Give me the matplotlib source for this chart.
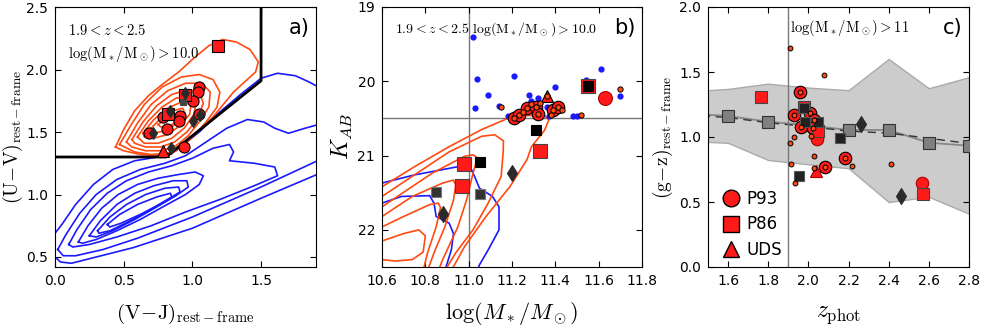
import matplotlib
matplotlib.use('Agg')
import matplotlib.pyplot as plt
from matplotlib.lines import Line2D

plt.rcParams['mathtext.fontset'] = 'cm'
plt.rcParams['font.family'] = 'DejaVu Sans'
plt.rcParams['xtick.labelsize'] = 10
plt.rcParams['ytick.labelsize'] = 10

RED = '#ff1a1a'
ORANGE = '#ff4a12'
BLUE = '#1a1aff'
DARK = '#2a2a2a'

# ===================================================================
# PANEL a) UVJ
# ===================================================================
a_circ_x = [1.048, 1.039, 1.007, 1.051, 0.910, 0.905, 0.813, 0.789, 0.687, 0.942]
a_circ_y = [1.864, 1.818, 1.751, 1.644, 1.631, 1.591, 1.524, 1.618, 1.489, 1.377]
a_sq_x = [1.19, 0.944, 0.825]
a_sq_y = [2.19, 1.800, 1.644]
a_tri_x = [0.789]
a_tri_y = [1.35]
a_diam_x = [0.947, 0.837, 0.711, 1.056, 1.007, 0.845]
a_diam_y = [1.81, 1.67, 1.49, 1.64, 1.586, 1.37]
a_dsq_x = [0.930]
a_dsq_y = [1.738]
wedge_x = [0.0, 0.807, 1.5, 1.5]
wedge_y = [1.3, 1.3, 1.91, 2.5]

a_orange = [
    [(0.44, 1.38), (0.50, 1.52), (0.58, 1.67), (0.68, 1.79), (0.78, 1.88), (0.90, 1.98), (1.02, 2.10),
     (1.12, 2.19), (1.22, 2.24), (1.32, 2.22), (1.42, 2.16), (1.48, 2.06), (1.46, 1.98), (1.30, 1.82),
     (1.15, 1.62), (1.02, 1.48), (0.92, 1.38), (0.84, 1.32), (0.74, 1.31), (0.62, 1.32), (0.50, 1.35), (0.44, 1.38)],
    [(0.47, 1.40), (0.55, 1.55), (0.65, 1.72), (0.78, 1.86), (0.92, 1.94), (1.05, 1.96), (1.15, 1.92),
     (1.20, 1.82), (1.18, 1.70), (1.10, 1.58), (1.00, 1.46), (0.92, 1.38), (0.82, 1.33), (0.70, 1.32),
     (0.58, 1.34), (0.47, 1.40)],
    [(0.52, 1.42), (0.60, 1.57), (0.70, 1.72), (0.82, 1.83), (0.95, 1.89), (1.07, 1.89), (1.13, 1.82),
     (1.12, 1.70), (1.05, 1.58), (0.97, 1.47), (0.88, 1.39), (0.78, 1.35), (0.66, 1.35), (0.56, 1.38), (0.52, 1.42)],
    [(0.56, 1.44), (0.64, 1.58), (0.74, 1.71), (0.85, 1.80), (0.97, 1.84), (1.05, 1.82), (1.08, 1.73),
     (1.04, 1.61), (0.96, 1.50), (0.87, 1.42), (0.77, 1.38), (0.66, 1.38), (0.58, 1.41), (0.56, 1.44)],
    [(0.60, 1.46), (0.68, 1.59), (0.78, 1.70), (0.88, 1.77), (0.98, 1.79), (1.03, 1.74), (1.01, 1.64),
     (0.94, 1.53), (0.85, 1.45), (0.75, 1.41), (0.65, 1.41), (0.60, 1.46)],
    [(0.64, 1.49), (0.72, 1.60), (0.82, 1.69), (0.92, 1.74), (0.99, 1.72), (0.98, 1.64), (0.91, 1.55),
     (0.82, 1.48), (0.72, 1.45), (0.65, 1.46), (0.64, 1.49)],
    [(0.69, 1.52), (0.77, 1.61), (0.86, 1.67), (0.93, 1.69), (0.95, 1.64), (0.89, 1.57), (0.80, 1.51),
     (0.72, 1.49), (0.69, 1.52)],
    [(0.75, 1.56), (0.83, 1.62), (0.89, 1.64), (0.90, 1.60), (0.84, 1.55), (0.77, 1.54), (0.75, 1.56)],
]

a_blue = [
    [(-0.05, 0.62), (0.05, 0.76), (0.15, 0.92), (0.28, 1.08), (0.42, 1.20), (0.58, 1.27), (0.75, 1.30),
     (0.88, 1.35), (1.05, 1.50), (1.20, 1.66), (1.35, 1.80), (1.50, 1.93), (1.62, 1.97), (1.75, 1.95),
     (1.85, 1.90), (1.95, 1.84), (1.95, 1.18), (1.50, 0.97), (1.00, 0.73), (0.57, 0.575), (0.30, 0.50),
     (0.12, 0.45), (0.04, 0.46), (-0.05, 0.55)],
    [(0.02, 0.56), (0.08, 0.68), (0.18, 0.85), (0.30, 1.00), (0.45, 1.12), (0.62, 1.20), (0.80, 1.25),
     (0.95, 1.31), (1.10, 1.42), (1.25, 1.53), (1.40, 1.60), (1.52, 1.58), (1.60, 1.53), (1.70, 1.49),
     (1.82, 1.53), (1.95, 1.57), (1.95, 1.29), (1.50, 1.06), (1.00, 0.82), (0.60, 0.65), (0.35, 0.56),
     (0.15, 0.51), (0.06, 0.51), (0.02, 0.56)],
    [(0.10, 0.60), (0.16, 0.72), (0.26, 0.88), (0.38, 1.01), (0.52, 1.11), (0.68, 1.18), (0.85, 1.23),
     (1.00, 1.29), (1.15, 1.37), (1.27, 1.40), (1.30, 1.34), (1.27, 1.27), (1.45, 1.25), (1.60, 1.22),
     (1.62, 1.15), (1.45, 1.07), (1.20, 0.96), (0.95, 0.86), (0.70, 0.75), (0.45, 0.66), (0.25, 0.60),
     (0.13, 0.58), (0.10, 0.60)],
    [(0.17, 0.62), (0.24, 0.75), (0.34, 0.89), (0.46, 1.00), (0.60, 1.08), (0.75, 1.13), (0.90, 1.16),
     (1.02, 1.18), (1.08, 1.15), (1.05, 1.08), (0.95, 1.00), (0.80, 0.91), (0.62, 0.80), (0.45, 0.71),
     (0.30, 0.64), (0.20, 0.61), (0.17, 0.62)],
    [(0.25, 0.67), (0.33, 0.79), (0.45, 0.92), (0.58, 1.01), (0.72, 1.07), (0.86, 1.11), (0.96, 1.11),
     (0.97, 1.06), (0.88, 0.99), (0.74, 0.90), (0.58, 0.80), (0.42, 0.71), (0.30, 0.66), (0.25, 0.67)],
    [(0.31, 0.71), (0.40, 0.82), (0.52, 0.92), (0.66, 1.00), (0.80, 1.05), (0.90, 1.06), (0.91, 1.02),
     (0.82, 0.96), (0.68, 0.87), (0.53, 0.78), (0.40, 0.71), (0.32, 0.69), (0.31, 0.71)],
    [(0.38, 0.76), (0.47, 0.84), (0.60, 0.92), (0.74, 0.98), (0.84, 1.01), (0.85, 0.98), (0.76, 0.92),
     (0.62, 0.84), (0.48, 0.77), (0.40, 0.74), (0.38, 0.76)],
]

# ===================================================================
# PANEL b) K vs mass
# ===================================================================
b_blue_x = [11.02, 11.04, 11.03, 11.09, 11.14, 11.21, 11.18, 11.21, 11.28, 11.32, 11.40, 11.36, 11.29,
            11.50, 11.54, 11.61, 11.70, 11.37, 11.48, 11.25]
b_blue_y = [19.41, 19.97, 20.36, 20.19, 20.33, 19.93, 20.47, 20.47, 20.18, 20.22, 20.08, 20.35, 20.27,
            20.47, 19.98, 19.84, 20.20, 20.47, 20.47, 20.40]
b_circ_x = [11.21, 11.23, 11.27, 11.31, 11.32, 11.39, 11.41]
b_circ_y = [20.49, 20.45, 20.36, 20.35, 20.44, 20.39, 20.35]
b_dot_x = [11.15, 11.52, 11.70, 11.21, 11.23, 11.27, 11.31, 11.32, 11.39, 11.41, 11.36, 11.29, 11.33,
           11.25, 11.43, 11.38]
b_dot_y = [20.34, 20.46, 20.11, 20.49, 20.45, 20.36, 20.35, 20.44, 20.39, 20.35, 20.20, 20.31, 20.29,
           20.42, 20.38, 20.46]
b_tri_x = [11.36]
b_tri_y = [20.20]
b_bigcirc_x = [11.63]
b_bigcirc_y = [20.22]
b_sq_x = [11.55, 10.977, 10.97, 11.33]
b_sq_y = [20.07, 21.12, 21.41, 20.94]
b_blk_x = [11.55, 11.05, 11.31]
b_blk_y = [20.07, 21.09, 20.66]
b_dsq_x = [10.85, 11.05]
b_dsq_y = [21.49, 21.52]
b_diam_x = [10.88, 11.20]
b_diam_y = [21.79, 21.24]

b_orange = [
    [(10.55, 21.50), (10.60, 21.42), (10.75, 21.15), (10.91, 20.88), (11.06, 20.65), (11.18, 20.50),
     (11.25, 20.46), (11.35, 20.46), (11.37, 20.52), (11.35, 20.66), (11.29, 20.88), (11.27, 21.05),
     (11.19, 21.42), (11.08, 21.82), (10.98, 22.23), (10.92, 22.55)],
    [(10.55, 21.62), (10.60, 21.55), (10.76, 21.24), (10.91, 20.95), (11.06, 20.74), (11.12, 20.72),
     (11.16, 20.80), (11.16, 20.92), (11.15, 21.28), (11.09, 21.64), (11.02, 22.00), (10.94, 22.31),
     (10.89, 22.55)],
    [(10.55, 21.76), (10.60, 21.69), (10.83, 21.24), (10.98, 21.01), (11.02, 20.99), (11.04, 21.03),
     (11.02, 21.24), (10.99, 21.60), (10.95, 21.96), (10.88, 22.40), (10.86, 22.55)],
    [(10.55, 21.88), (10.60, 21.82), (10.74, 21.55), (10.88, 21.37), (10.93, 21.33), (10.94, 21.40),
     (10.93, 21.60), (10.89, 21.96), (10.84, 22.31), (10.81, 22.55)],
    [(10.55, 22.01), (10.60, 21.96), (10.70, 21.82), (10.82, 21.66), (10.86, 21.64), (10.87, 21.70),
     (10.85, 21.96), (10.81, 22.31), (10.79, 22.55)],
    [(10.55, 22.18), (10.60, 22.15), (10.70, 22.05), (10.77, 22.00), (10.80, 22.08), (10.79, 22.30),
     (10.74, 22.40), (10.66, 22.42), (10.60, 22.40), (10.55, 22.38)],
]
b_blue = [
    [(10.55, 21.40), (10.60, 21.37), (10.75, 21.26), (10.95, 21.15), (11.01, 21.17), (11.03, 21.30),
     (11.05, 21.44), (11.11, 21.55), (11.14, 21.69), (11.14, 22.00), (11.09, 22.27), (11.05, 22.47),
     (11.04, 22.55)],
    [(10.55, 21.68), (10.60, 21.64), (10.69, 21.55), (10.82, 21.54), (10.84, 21.64), (10.85, 21.82),
     (10.91, 21.91), (10.93, 22.05), (10.92, 22.27), (10.89, 22.55)],
]

# ===================================================================
# PANEL c) g-z vs z
# ===================================================================
band_x = [1.4, 1.6, 1.8, 2.0, 2.2, 2.4, 2.6, 2.8]
band_hi = [1.35, 1.37, 1.41, 1.38, 1.36, 1.60, 1.375, 1.46]
band_lo = [0.97, 0.955, 0.823, 0.79, 0.76, 0.50, 0.54, 0.41]
med_y = [1.18, 1.162, 1.118, 1.09, 1.054, 1.054, 0.956, 0.933]
mean_y = [1.17, 1.15, 1.11, 1.08, 1.045, 1.03, 0.99, 0.95]

c_ring_x = [1.958, 1.928, 1.961, 2.006, 2.028, 2.184, 2.084, 2.023]
c_ring_y = [1.349, 1.170, 1.075, 1.182, 1.131, 0.836, 0.771, 1.067]
c_circ_x = [2.044, 2.566]
c_circ_y = [0.982, 0.643]
c_sq_x = [1.766, 2.572, 1.978, 2.048]
c_sq_y = [1.311, 0.558, 1.234, 1.045]
c_tri_x = [2.040]
c_tri_y = [0.738]
c_dsq_x = [2.156, 1.952, 1.981, 2.048, 1.978]
c_dsq_y = [0.990, 0.702, 1.118, 1.118, 1.225]
c_diam_x = [2.260, 2.463]
c_diam_y = [1.098, 0.545]
c_dot_x = [1.907, 2.078, 1.928, 1.908, 2.028, 1.915, 2.028, 2.217, 2.413, 1.932, 2.015]
c_dot_y = [1.684, 1.478, 1.002, 0.956, 0.853, 0.789, 0.765, 0.779, 0.789, 0.643, 1.008]

# ===================================================================
# GRAFIK
# ===================================================================
fig = plt.figure(figsize=(9.81, 3.29), dpi=100)
ax_a = fig.add_axes([55 / 981, 62 / 329, 261 / 981, 260 / 329])
ax_b = fig.add_axes([382 / 981, 62 / 329, 260 / 981, 260 / 329])
ax_c = fig.add_axes([708 / 981, 62 / 329, 261 / 981, 260 / 329])

for ax in (ax_a, ax_b, ax_c):
    ax.tick_params(direction='in', top=True, right=True, length=4, width=0.8, pad=5)


def draw_contours(ax, paths, color):
    for p in paths:
        xs, ys = zip(*p)
        ax.plot(xs, ys, color=color, lw=1.2, zorder=2)


def mk(ax, x, y, marker, ms, fc, ec='black', mew=0.8, z=5):
    ax.plot(x, y, linestyle='none', marker=marker, ms=ms, mfc=fc, mec=ec, mew=mew, zorder=z)


# --- a) ---
draw_contours(ax_a, a_blue, BLUE)
draw_contours(ax_a, a_orange, ORANGE)
ax_a.plot(wedge_x, wedge_y, color='black', lw=2, zorder=3)
mk(ax_a, a_circ_x, a_circ_y, 'o', 8, RED)
mk(ax_a, a_sq_x, a_sq_y, 's', 8, RED)
mk(ax_a, a_tri_x, a_tri_y, '^', 8, RED)
mk(ax_a, a_dsq_x, a_dsq_y, 's', 5, '#444444', '#444444', z=6)
mk(ax_a, a_diam_x, a_diam_y, 'd', 6, DARK, DARK, z=6)
ax_a.set_xlim(0.0, 1.9)
ax_a.set_ylim(0.42, 2.5)
ax_a.set_xticks([0.0, 0.5, 1.0, 1.5])
ax_a.set_yticks([0.5, 1.0, 1.5, 2.0, 2.5])
ax_a.set_xlabel(r'$\mathrm{(V\!-\!J)_{rest-frame}}$', fontsize=15, labelpad=10)
ax_a.set_ylabel(r'$\mathrm{(U\!-\!V)_{rest-frame}}$', fontsize=14, labelpad=1)
ax_a.text(0.05, 0.91, r'$1.9<z<2.5$', transform=ax_a.transAxes, fontsize=10.5, va='center')
ax_a.text(0.05, 0.82, r'$\log(\mathrm{M}_*/\mathrm{M}_\odot)>10.0$', transform=ax_a.transAxes,
          fontsize=10.5, va='center')
ax_a.text(0.975, 0.92, 'a)', transform=ax_a.transAxes, fontsize=15, ha='right', va='center')

# --- b) ---
draw_contours(ax_b, b_blue, BLUE)
draw_contours(ax_b, b_orange, ORANGE)
ax_b.axvline(11.0, color='#777777', lw=1, zorder=1)
ax_b.axhline(20.5, color='#777777', lw=1, zorder=1)
mk(ax_b, b_blue_x, b_blue_y, 'o', 4.5, BLUE, BLUE, mew=0, z=4)
mk(ax_b, b_circ_x, b_circ_y, 'o', 9, RED)
mk(ax_b, b_tri_x, b_tri_y, '^', 9, RED)
mk(ax_b, b_bigcirc_x, b_bigcirc_y, 'o', 10, RED, '#aa0000')
mk(ax_b, b_sq_x, b_sq_y, 's', 9.5, RED, '#444444')
mk(ax_b, b_dot_x, b_dot_y, 'o', 3.8, ORANGE, 'black', mew=0.7, z=7)
mk(ax_b, b_dsq_x, b_dsq_y, 's', 7, '#333333', '#777777')
mk(ax_b, b_blk_x, b_blk_y, 's', 6.5, 'black', 'black', z=6)
mk(ax_b, b_diam_x, b_diam_y, 'd', 8, DARK, DARK)
ax_b.set_xlim(10.6, 11.8)
ax_b.set_ylim(22.5, 19.0)
ax_b.set_xticks([10.6, 10.8, 11.0, 11.2, 11.4, 11.6, 11.8])
ax_b.set_yticks([19, 20, 21, 22])
ax_b.set_xlabel(r'$\log(M_*/M_\odot)$', fontsize=16, labelpad=9)
ax_b.set_ylabel(r'$K_{AB}$', fontsize=17, labelpad=2)
ax_b.text(0.05, 0.915, r'$1.9<z<2.5\ \log(\mathrm{M}_*/\mathrm{M}_\odot)>10.0$', transform=ax_b.transAxes,
          fontsize=10, va='center')
ax_b.text(0.975, 0.92, 'b)', transform=ax_b.transAxes, fontsize=15, ha='right', va='center')

# --- c) ---
ax_c.fill_between(band_x, band_lo, band_hi, facecolor='#cccccc', edgecolor='#aaaaaa', lw=1, zorder=1)
ax_c.plot(band_x, med_y, color='#888888', lw=1.3, zorder=2)
ax_c.plot(band_x, mean_y, color='#333333', lw=1, ls='--', dashes=(6, 4), zorder=2)
mk(ax_c, band_x, med_y, 's', 9, '#808080', '#333333', z=3)
ax_c.axvline(1.9, color='#777777', lw=1, zorder=2)
mk(ax_c, c_ring_x, c_ring_y, 'o', 9, RED)
mk(ax_c, c_circ_x, c_circ_y, 'o', 9, RED, '#aa0000')
mk(ax_c, c_sq_x, c_sq_y, 's', 9, RED, '#444444')
mk(ax_c, c_tri_x, c_tri_y, '^', 9, RED, '#aa0000')
mk(ax_c, c_dsq_x, c_dsq_y, 's', 6.5, '#222222', '#555555', z=6)
mk(ax_c, c_diam_x, c_diam_y, 'd', 8, DARK, DARK)
mk(ax_c, c_ring_x + c_dot_x, c_ring_y + c_dot_y, 'o', 3.5, ORANGE, 'black', mew=0.7, z=7)
ax_c.set_xlim(1.5, 2.8)
ax_c.set_ylim(0.0, 2.0)
ax_c.set_xticks([1.6, 1.8, 2.0, 2.2, 2.4, 2.6, 2.8])
ax_c.set_yticks([0.0, 0.5, 1.0, 1.5, 2.0])
ax_c.set_xlabel(r'$z_\mathrm{phot}$', fontsize=17, labelpad=10)
ax_c.set_ylabel(r'$\mathrm{(g\!-\!z)_{rest-frame}}$', fontsize=14, labelpad=3)
ax_c.text(1.91, 1.84, r'$\log(\mathrm{M}_*/\mathrm{M}_\odot)>11$', fontsize=10.5, va='center')
ax_c.text(0.975, 0.92, 'c)', transform=ax_c.transAxes, fontsize=15, ha='right', va='center')

handles = [
    Line2D([], [], ls='none', marker='o', ms=12, mfc=RED, mec='black'),
    Line2D([], [], ls='none', marker='s', ms=11, mfc=RED, mec='black'),
    Line2D([], [], ls='none', marker='^', ms=12, mfc=RED, mec='black'),
]
ax_c.legend(handles, ['P93', 'P86', 'UDS'], loc='lower left', bbox_to_anchor=(0.0, -0.02),
            frameon=False, fontsize=12, handletextpad=0.3, labelspacing=0.45, numpoints=1,
            handlelength=1.2, borderaxespad=0.4)

fig.savefig('out.png', dpi=100)
